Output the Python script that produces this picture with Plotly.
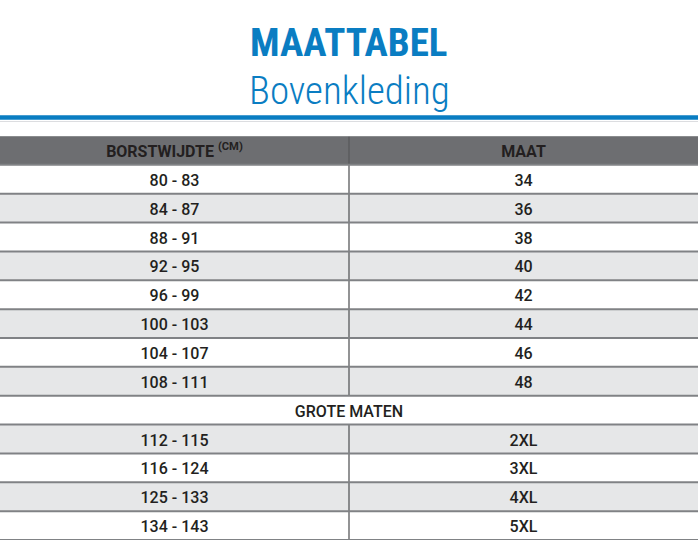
import plotly.graph_objects as go

# size chart data
borstwijdte = ["80 - 83", "84 - 87", "88 - 91", "92 - 95", "96 - 99", "100 - 103",
               "104 - 107", "108 - 111", "GROTE MATEN", "112 - 115", "116 - 124",
               "125 - 133", "134 - 143"]
maat = ["34", "36", "38", "40", "42", "44", "46", "48", "", "2XL", "3XL", "4XL", "5XL"]
header = ["BORSTWIJDTE <sup>(CM)</sup>", "MAAT"]
section_row = "GROTE MATEN"

BLUE = "#0a7dc2"
HEAD_GREY = "#6d6e71"
ROW_GREY = "#e6e7e8"
TXT = "#231f20"
TITLE_FONT = "Roboto Condensed, Liberation Sans Narrow, DejaVu Sans Condensed, Roboto, sans-serif"
BODY_FONT = "Roboto, Noto Sans, sans-serif"

W, H = 698, 558
top_px, bot_px = 136, 540
text_shift = 0.09  # text sits slightly below row centre

n = len(borstwijdte) + 1  # header + rows
rows = list(range(n))
fills = [HEAD_GREY] + [ROW_GREY if i % 2 == 0 else "white" for i in range(1, n)]

fig = go.Figure()

# row backgrounds
fig.add_trace(go.Bar(
    orientation="h", y=rows, x=[2] * n, base=0, width=1,
    marker=dict(color=fills, line=dict(width=0)),
    hoverinfo="skip", showlegend=False,
))

# horizontal row lines
for i in range(n):
    fig.add_shape(type="line", xref="x", yref="y", x0=0, x1=2, y0=i + 0.5, y1=i + 0.5,
                  line=dict(color="#808285", width=2))
fig.add_shape(type="line", xref="x", yref="y", x0=0, x1=2, y0=-0.5, y1=-0.5,
              line=dict(color="#a7a9ac", width=1))

# column divider, skipped on the section row
sec = borstwijdte.index(section_row) + 1
fig.add_trace(go.Scatter(
    x=[1, 1, None, 1, 1], y=[-0.5, sec - 0.5, None, sec + 0.5, n - 0.5],
    mode="lines", line=dict(color="#58595b", width=1.3),
    hoverinfo="skip", showlegend=False,
))

# cell text
left_x, left_y, left_t = [], [], []
right_x, right_y, right_t = [], [], []
for i, (b, m) in enumerate(zip(borstwijdte, maat), start=1):
    if b == section_row:
        right_x.append(1); right_y.append(i + text_shift); right_t.append(b)
        continue
    left_x.append(0.5); left_y.append(i + text_shift); left_t.append(b)
    right_x.append(1.5); right_y.append(i + text_shift); right_t.append(m)

fig.add_trace(go.Scatter(
    x=[0.5, 1.5], y=[text_shift, text_shift], text=header, mode="text",
    textfont=dict(family=BODY_FONT, size=16, color=TXT, weight="bold"),
    hoverinfo="skip", showlegend=False,
))
fig.add_trace(go.Scatter(
    x=left_x + right_x, y=left_y + right_y, text=left_t + right_t, mode="text",
    textfont=dict(family=BODY_FONT, size=16, color=TXT, weight=500),
    hoverinfo="skip", showlegend=False,
))

# title block
fig.add_annotation(text="MAATTABEL", x=0.5, y=1 - 43 / H, xref="paper", yref="paper",
                   yanchor="middle", showarrow=False,
                   font=dict(family=TITLE_FONT, size=39, color=BLUE, weight=700))
fig.add_annotation(text="Bovenkleding", x=0.5, y=1 - 91 / H, xref="paper", yref="paper",
                   yanchor="middle", showarrow=False,
                   font=dict(family=TITLE_FONT, size=39, color=BLUE, weight=300))
fig.add_shape(type="line", xref="paper", yref="paper", x0=0, x1=1,
              y0=1 - 117.5 / H, y1=1 - 117.5 / H, line=dict(color=BLUE, width=4.5))
fig.add_shape(type="line", xref="paper", yref="paper", x0=0, x1=1,
              y0=1 - 121.5 / H, y1=1 - 121.5 / H, line=dict(color="#dcdde0", width=1))

fig.update_layout(
    width=W, height=H,
    margin=dict(l=0, r=0, t=0, b=0),
    paper_bgcolor="white", plot_bgcolor="white",
    bargap=0,
    xaxis=dict(range=[0, 2], visible=False, fixedrange=True),
    yaxis=dict(range=[n - 0.5, -0.5], visible=False, fixedrange=True,
               domain=[1 - bot_px / H, 1 - top_px / H]),
)

fig.write_html("out.html", config={"displayModeBar": False},
               post_script="document.body.style.margin='0';")
